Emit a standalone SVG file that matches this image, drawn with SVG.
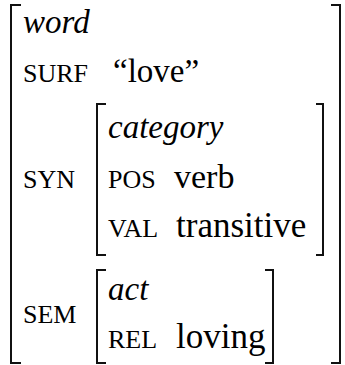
<svg xmlns="http://www.w3.org/2000/svg" width="345" height="365" viewBox="0 0 345 365">
<rect width="345" height="365" fill="#fff"/>
<path id="outer-left" fill="none" stroke="#111" stroke-width="2" d="M21,5 H11 V363 H21"/>
<path id="outer-right" fill="none" stroke="#111" stroke-width="2" d="M331,5 H340 V363 H331"/>
<path id="syn-left" fill="none" stroke="#111" stroke-width="2" d="M106,104 H97 V255 H106"/>
<path id="syn-right" fill="none" stroke="#111" stroke-width="2" d="M316,104 H323 V255 H316"/>
<path id="sem-left" fill="none" stroke="#111" stroke-width="2" d="M106,270 H97 V363 H106"/>
<path id="sem-right" fill="none" stroke="#111" stroke-width="2" d="M265,270 H273 V363 H265"/>
<text x="23" y="33" font-size="33" font-family="Liberation Serif" font-style="italic">word</text>
<text x="23" y="82" font-size="26" font-family="Liberation Serif">SURF</text>
<text x="113" y="82" font-size="33" font-family="Liberation Serif">“love”</text>
<text x="23" y="188" font-size="26" font-family="Liberation Serif">SYN</text>
<text x="23" y="323" font-size="26" font-family="Liberation Serif">SEM</text>
<text x="108" y="138" font-size="33" font-family="Liberation Serif" font-style="italic">category</text>
<text x="108" y="188" font-size="26" font-family="Liberation Serif">POS</text>
<text x="174" y="188" font-size="34" font-family="Liberation Serif">verb</text>
<text x="108" y="237" font-size="26" font-family="Liberation Serif">VAL</text>
<text x="176" y="237" font-size="35" font-family="Liberation Serif">transitive</text>
<text x="108" y="300" font-size="33" font-family="Liberation Serif" font-style="italic">act</text>
<text x="108" y="348" font-size="26" font-family="Liberation Serif">REL</text>
<text x="176" y="348" font-size="35" font-family="Liberation Serif">loving</text>
</svg>
